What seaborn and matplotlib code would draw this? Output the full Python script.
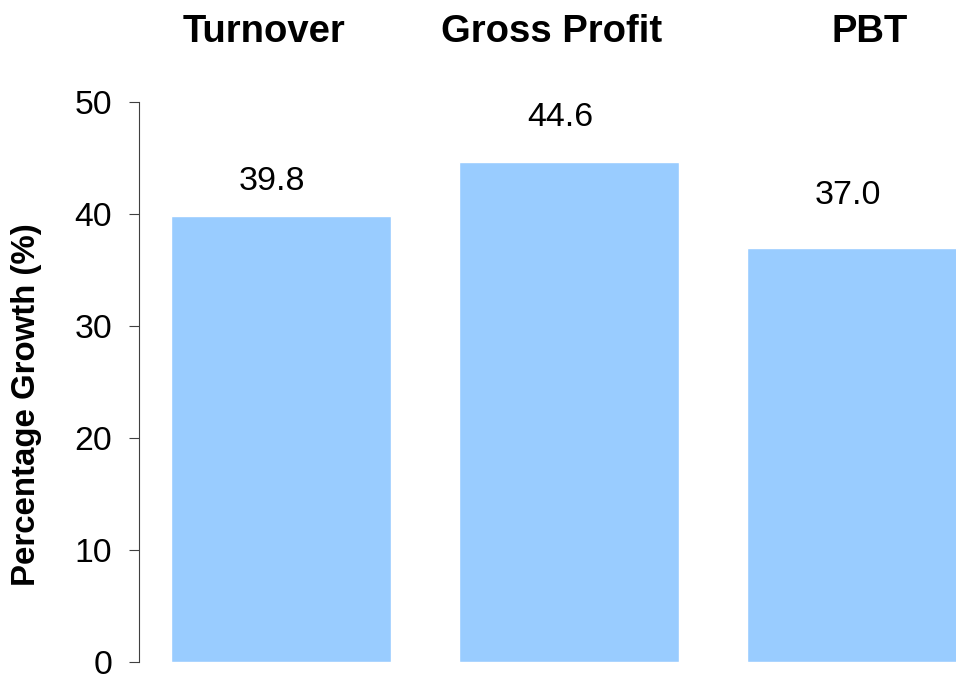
import pandas as pd
import matplotlib
matplotlib.use("Agg")
import matplotlib.pyplot as plt
import seaborn as sns

categories = ["Turnover", "Gross Profit", "PBT"]
growth = [39.8, 44.6, 37.0]
value_labels = ["39.8", "44.6", "37.0"]
label_offsets = [1.75, 2.6, 3.3]
y_ticks = [0, 10, 20, 30, 40, 50]

df = pd.DataFrame({"Measure": categories, "Growth": growth})

sns.set_style("white")
plt.rcParams["font.family"] = ["Liberation Sans", "DejaVu Sans"]
plt.rcParams["text.color"] = "black"
plt.rcParams["axes.labelcolor"] = "black"

fig = plt.figure(figsize=(9.56, 6.74), dpi=100)
ax = fig.add_axes([0.1454, 0.0178, 0.8546, 0.8309])

sns.barplot(data=df, x="Measure", y="Growth", color="#99CCFF", saturation=1,
            width=0.764, ax=ax)

# value labels above bars
for i, (v, lab, off) in enumerate(zip(growth, value_labels, label_offsets)):
    ax.text(i - 0.03, v + off, lab, ha="center", va="bottom", fontsize=24.5)

ax.set_xlim(-0.493, 2.344)
ax.set_ylim(0, 50)
ax.set_yticks(y_ticks)
ax.tick_params(axis="y", direction="out", length=7.2, width=0.8, color="#404040",
               labelcolor="black", labelsize=24.3, pad=12, left=True)

# category names across the top
ax.set_xticks([])
ax.set_xlabel("")
title_shift = [-0.06, -0.06, 0.045]
for i, (name, dx) in enumerate(zip(categories, title_shift)):
    ax.text(i + dx, 1.0 + 60 / 560, name, transform=ax.get_xaxis_transform(),
            ha="center", va="baseline", fontsize=27.5, fontweight="bold")

ax.set_ylabel("Percentage Growth (%)", fontsize=23.8, fontweight="bold")
ax.yaxis.set_label_coords(-0.119, 0.459)

for s in ["top", "right", "bottom"]:
    ax.spines[s].set_visible(False)
ax.spines["left"].set_color("#404040")
ax.spines["left"].set_linewidth(0.8)

fig.savefig("out.png", dpi=100)
